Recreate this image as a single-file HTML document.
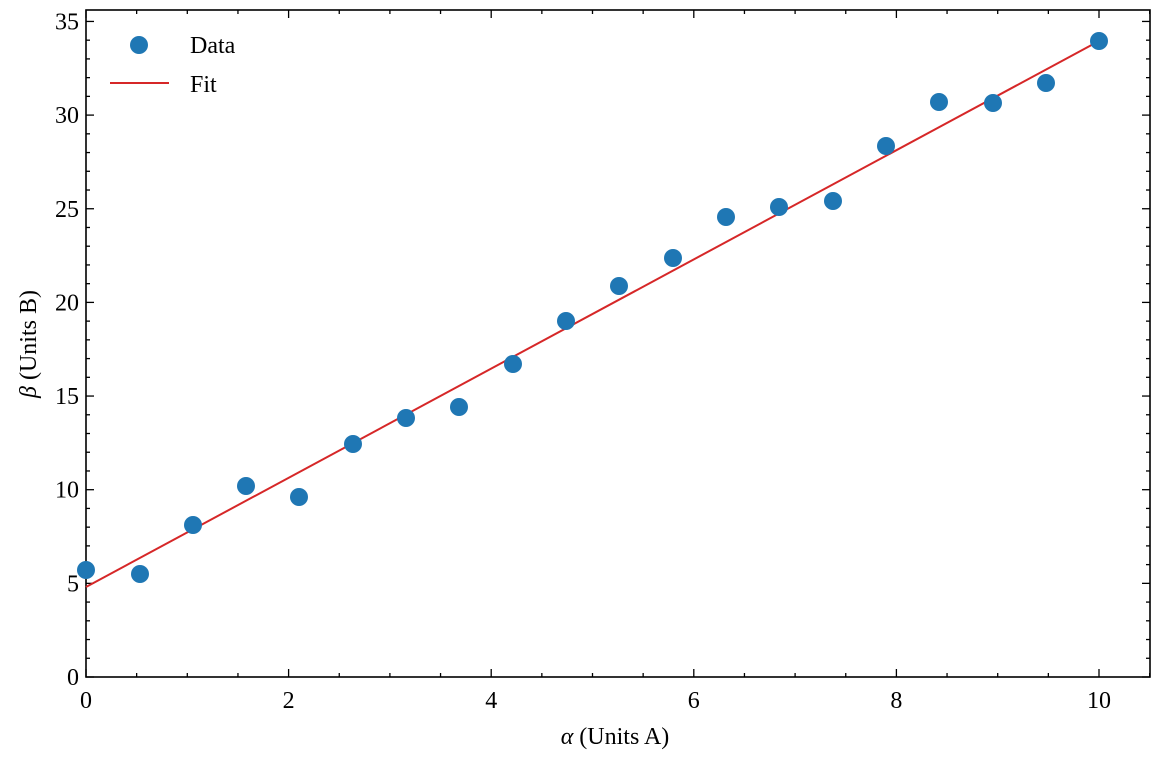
<!DOCTYPE html>
<html><head><style>body{margin:0;background:#fff}svg{display:block}text{font-family:"Liberation Serif",serif;fill:#000}</style></head><body>
<svg width="1160" height="760" viewBox="0 0 1160 760" xmlns="http://www.w3.org/2000/svg">
<rect x="86" y="10" width="1064" height="667" fill="none" stroke="#000" stroke-width="1.6"/>
<g stroke="#000" stroke-width="1.3" id="ticks"></g>
<g font-size="24" id="labels"></g>
<line x1="86" y1="587" x2="1099" y2="41" stroke="#d62728" stroke-width="2"/>
<g fill="#1f77b4" id="pts"></g>
<circle cx="139" cy="45" r="9" fill="#1f77b4"/>
<line x1="110" y1="83" x2="169" y2="83" stroke="#d62728" stroke-width="2"/>
<text x="190" y="53" font-size="24">Data</text>
<text x="190" y="92" font-size="24">Fit</text>
<text x="615" y="744" font-size="24" text-anchor="middle"><tspan font-style="italic">α</tspan> (Units A)</text>
<text transform="translate(36,344) rotate(-90)" font-size="24" text-anchor="middle"><tspan font-style="italic">β</tspan> (Units B)</text>
<script>
var ns="http://www.w3.org/2000/svg";
function el(p,t,a,txt){var e=document.createElementNS(ns,t);for(var k in a)e.setAttribute(k,a[k]);if(txt!==undefined)e.textContent=txt;document.getElementById(p).appendChild(e);}
var X=function(v){return 86+101.3*v},Y=function(v){return 677-18.73*v};
for(var i=0;i<=21;i++){var v=i*0.5,x=X(v);if(x>1150)break;var L=(i%4==0)?8:4;
el("ticks","line",{x1:x,y1:677,x2:x,y2:677-L});el("ticks","line",{x1:x,y1:10,x2:x,y2:10+L});
if(i%4==0)el("labels","text",{x:x,y:708,"text-anchor":"middle"},String(v));}
for(var j=0;j<=35;j++){var y=Y(j),L=(j%5==0)?8:4;
el("ticks","line",{x1:86,y1:y,x2:86+L,y2:y});el("ticks","line",{x1:1150,y1:y,x2:1150-L,y2:y});
if(j%5==0)el("labels","text",{x:79,y:y+8,"text-anchor":"end"},String(j));}
var P=[[86,570],[140,574],[193,525],[246,486],[299,497],[353,444],[406,418],[459,407],[513,364],[566,321],[619,286],[673,258],[726,217],[779,207],[833,201],[886,146],[939,102],[993,103],[1046,83],[1099,41]];
P.forEach(function(p){el("pts","circle",{cx:p[0],cy:p[1],r:9});});
</script>
</svg>
</body></html>
